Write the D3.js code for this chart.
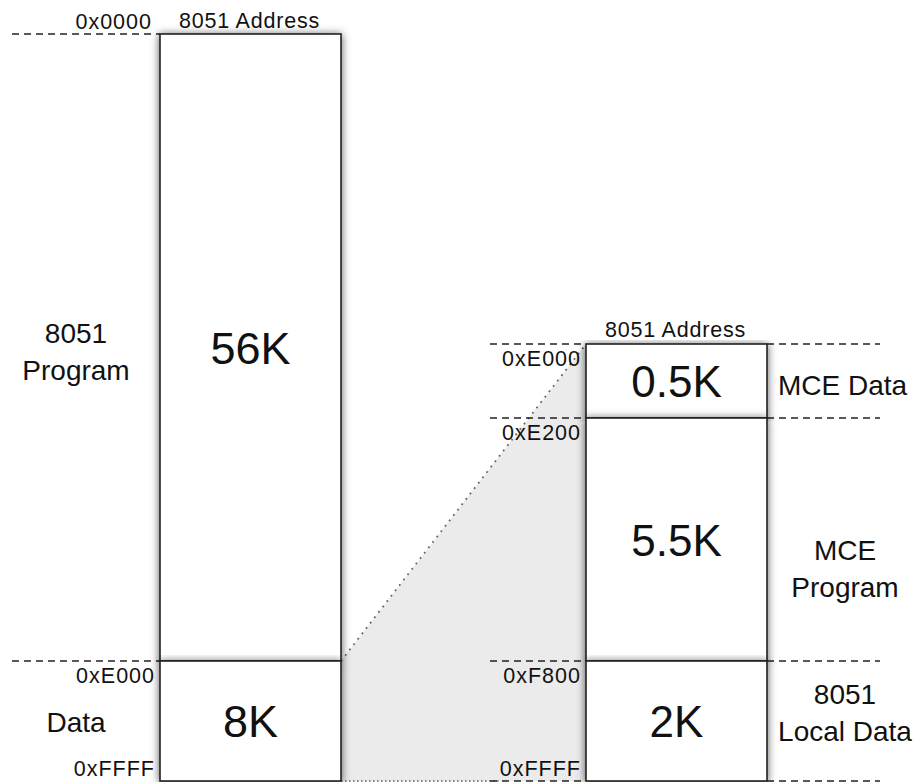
<!DOCTYPE html>
<html>
<head>
<meta charset="utf-8">
<script src="https://cdn.jsdelivr.net/npm/d3@7"></script>
<style>
  body { margin: 0; background: #fff; }
  svg { display: block; font-family: "Liberation Sans", Arial, sans-serif; }
  text { fill: #111; }
</style>
</head>
<body>
<div id="chart"></div>
<script>
// memory map: 8051 address space and the zoomed-in data region
var leftAddrs = [0x0000, 0xE000, 0xFFFF];
var leftTicks = ["0x0000", "0xE000", "0xFFFF"];
var leftSizes = ["56K", "8K"];
var leftNames = [["8051", "Program"], ["Data"]];

var rightAddrs = [0xE000, 0xE200, 0xF800, 0xFFFF];
var rightTicks = ["0xE000", "0xE200", "0xF800", "0xFFFF"];
var rightSizes = ["0.5K", "5.5K", "2K"];
var rightNames = [["MCE Data"], ["MCE", "Program"], ["8051", "Local Data"]];

var W = 920, H = 782;

var svg = d3.select("#chart").append("svg")
  .attr("width", W)
  .attr("height", H);

var defs = svg.append("defs");
var f = defs.append("filter").attr("id", "shadow")
  .attr("x", "-20%").attr("y", "-5%").attr("width", "140%").attr("height", "110%");
f.append("feDropShadow")
  .attr("dx", 0).attr("dy", 1)
  .attr("stdDeviation", 4)
  .attr("flood-color", "#000")
  .attr("flood-opacity", 0.65);

// piecewise scales, the segments are not drawn to scale
var yL = d3.scaleLinear().domain(leftAddrs).range([34, 661, 781]);
var yR = d3.scaleLinear().domain(rightAddrs).range([344, 418, 661, 781]);

var L = {x0: 160, x1: 341};
var R = {x0: 586, x1: 767};

// grey zoom wedge
var wedge = [[L.x1, yL(0xE000)], [R.x0, yR(0xE000)], [R.x0, yR(0xFFFF)], [L.x1, yL(0xFFFF)]];
svg.append("path")
  .attr("d", d3.line()(wedge) + "Z")
  .attr("fill", "#ebebeb");
svg.append("line")
  .attr("x1", L.x1).attr("y1", yL(0xE000))
  .attr("x2", R.x0).attr("y2", yR(0xE000))
  .attr("stroke", "#666").attr("stroke-width", 1.8)
  .attr("stroke-dasharray", "1.8,5");
svg.append("line")
  .attr("x1", L.x1).attr("y1", yL(0xFFFF))
  .attr("x2", 500).attr("y2", yR(0xFFFF))
  .attr("stroke", "#666").attr("stroke-width", 1.6)
  .attr("stroke-dasharray", "1.6,2.4");

function block(box, y, addrs, ticks, sizes, names, side) {
  var g = svg.append("g");

  // dashed address guides
  addrs.forEach(function(a, i) {
    if (side == "left") {
      if (i == addrs.length - 1) return;
      g.append("line")
        .attr("x1", 12).attr("x2", box.x0)
        .attr("y1", y(a)).attr("y2", y(a));
    } else {
      g.append("line")
        .attr("x1", 490).attr("x2", box.x0)
        .attr("y1", y(a)).attr("y2", y(a));
      g.append("line")
        .attr("x1", box.x1).attr("x2", 880)
        .attr("y1", y(a)).attr("y2", y(a));
    }
  });
  g.selectAll("line")
    .attr("stroke", "#222")
    .attr("stroke-width", 1.4)
    .attr("stroke-dasharray", "7,5");

  // the boxes
  var segs = d3.range(sizes.length);
  g.selectAll("rect")
    .data(segs)
    .enter()
    .append("rect")
    .attr("x", box.x0)
    .attr("y", function(i) { return y(addrs[i]); })
    .attr("width", box.x1 - box.x0)
    .attr("height", function(i) { return y(addrs[i + 1]) - y(addrs[i]); })
    .attr("fill", "#fff")
    .attr("stroke", "#222")
    .attr("stroke-width", 1.6)
    .attr("filter", "url(#shadow)");

  var cx = (box.x0 + box.x1) / 2;

  g.append("text")
    .attr("x", cx - 1)
    .attr("y", y(addrs[0]) - (side == "left" ? 6 : 7))
    .attr("text-anchor", "middle")
    .attr("font-size", 21.5)
    .attr("letter-spacing", 0.8)
    .text("8051 Address");

  // hex addresses
  ticks.forEach(function(t, i) {
    var above = (i == ticks.length - 1) || (side == "left" && i == 0);
    g.append("text")
      .attr("x", box.x0 - (side == "left" && i == 0 ? 8 : 5))
      .attr("y", y(addrs[i]) + (above ? -5 : 22))
      .attr("text-anchor", "end")
      .attr("font-size", 21.5)
      .attr("letter-spacing", 1)
      .text(t);
  });

  // sizes
  g.selectAll("text.size")
    .data(segs)
    .enter()
    .append("text")
    .attr("class", "size")
    .attr("x", cx)
    .attr("y", function(i) { return (y(addrs[i]) + y(addrs[i + 1])) / 2 + 16; })
    .attr("text-anchor", "middle")
    .attr("font-size", side == "left" ? 45 : 44)
    .text(function(i) { return sizes[i]; });

  // region names, baseline of first line relative to segment middle
  var shift = side == "left" ? [-5, 11] : [14, 20, -17];
  var nx = side == "left" ? 76 : 845;
  segs.forEach(function(i) {
    var mid = (y(addrs[i]) + y(addrs[i + 1])) / 2 + shift[i];
    var lines = names[i];
    var single = side == "right" && lines.length == 1;
    var t = g.append("text")
      .attr("text-anchor", single ? "start" : "middle")
      .attr("font-size", 28);
    lines.forEach(function(s, k) {
      t.append("tspan")
        .attr("x", single ? box.x1 + 11 : nx)
        .attr("y", mid + k * 37)
        .text(s);
    });
  });
}

block(L, yL, leftAddrs, leftTicks, leftSizes, leftNames, "left");
block(R, yR, rightAddrs, rightTicks, rightSizes, rightNames, "right");
</script>
</body>
</html>
